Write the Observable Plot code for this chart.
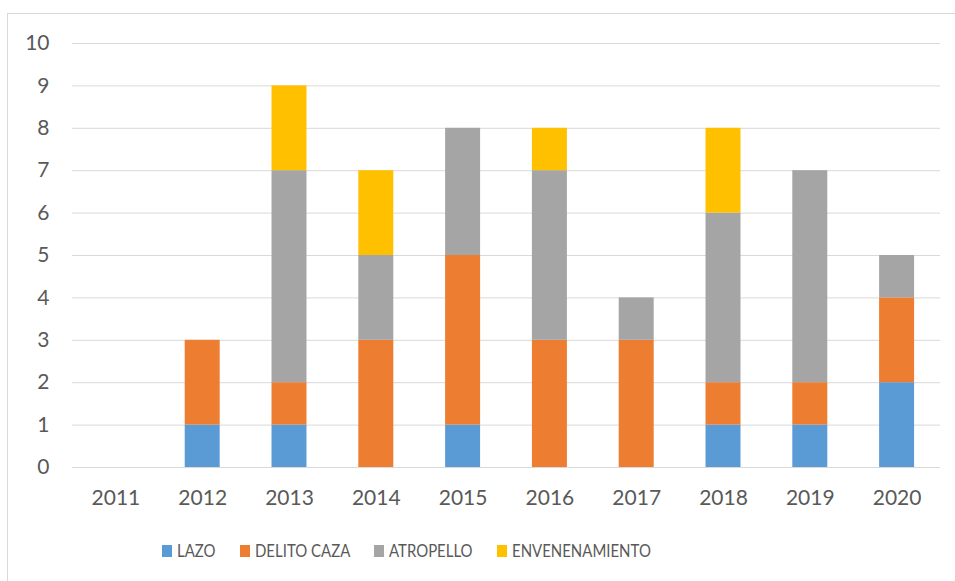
<!DOCTYPE html>
<html>
<head>
<meta charset="utf-8">
<script src="https://cdn.jsdelivr.net/npm/d3@7"></script>
<script src="https://cdn.jsdelivr.net/npm/@observablehq/plot@0.6"></script>
<style>
  html, body { margin: 0; padding: 0; background: #fff; }
  body { width: 955px; height: 581px; overflow: hidden; position: relative; font-family: Lato, "Open Sans", sans-serif; }
  #frame { position: absolute; left: 7px; top: 13px; width: 1000px; height: 620px; border: 1px solid #d9d9d9; box-sizing: border-box; }
  #chart { position: absolute; left: 0; top: 0; }
  #legend { position: absolute; left: 162px; top: 541px; height: 20px; display: flex; align-items: center; gap: 24px; font-size: 17.6px; line-height: 20px; color: #595959; white-space: nowrap; }
  .item { display: flex; align-items: center; gap: 5px; }
  .sw { width: 10px; height: 12px; display: inline-block; }
  .tx { display: inline-block; transform: scaleX(0.85); transform-origin: left center; }
</style>
</head>
<body>
<div id="frame"></div>
<div id="chart"></div>
<div id="legend"></div>
<script>
const years = ["2011", "2012", "2013", "2014", "2015", "2016", "2017", "2018", "2019", "2020"];
const seriesNames = ["LAZO", "DELITO CAZA", "ATROPELLO", "ENVENENAMIENTO"];
const lazo           = [0, 1, 1, 0, 1, 0, 0, 1, 1, 2];
const delitoCaza     = [0, 2, 1, 3, 4, 3, 3, 1, 1, 2];
const atropello      = [0, 0, 5, 2, 3, 4, 1, 4, 5, 1];
const envenenamiento = [0, 0, 2, 2, 0, 1, 0, 2, 0, 0];
const colors = ["#5B9BD5", "#ED7D31", "#A5A5A5", "#FFC000"];
const yTicks = [0, 1, 2, 3, 4, 5, 6, 7, 8, 9, 10];

const seriesValues = [lazo, delitoCaza, atropello, envenenamiento];
const table = [];
seriesNames.forEach((name, si) => {
  years.forEach((yr, i) => table.push({ year: yr, series: name, value: seriesValues[si][i] }));
});

const chart = Plot.plot({
  width: 955,
  height: 520,
  marginLeft: 72,
  marginRight: 15,
  marginTop: 43,
  marginBottom: 53,
  x: { domain: years, paddingInner: 0.597, paddingOuter: 0.2985, round: false, label: null },
  y: { domain: [0, 10], label: null },
  color: { domain: seriesNames, range: colors },
  style: { fontFamily: "Lato, 'Open Sans', sans-serif", fontSize: "21px", color: "#595959", background: "transparent" },
  marks: [
    Plot.ruleY(yTicks, { stroke: "#d9d9d9", strokeWidth: 1 }),
    Plot.barY(table, { x: "year", y: "value", fill: "series" }),
    Plot.axisY({ ticks: yTicks, tickSize: 0, tickPadding: 23, label: null }),
    Plot.axisX({ tickSize: 0, tickPadding: 23, label: null })
  ]
});
document.getElementById("chart").appendChild(chart);

const legend = document.getElementById("legend");
const squeeze = 0.85;
seriesNames.forEach((name, i) => {
  const item = document.createElement("div");
  item.className = "item";
  const sw = document.createElement("span");
  sw.className = "sw";
  sw.style.background = colors[i];
  const tx = document.createElement("span");
  tx.className = "tx";
  tx.textContent = name;
  item.appendChild(sw);
  item.appendChild(tx);
  legend.appendChild(item);
  const w = tx.offsetWidth;
  tx.style.marginRight = (-(1 - squeeze) * w) + "px";
});
</script>
</body>
</html>
